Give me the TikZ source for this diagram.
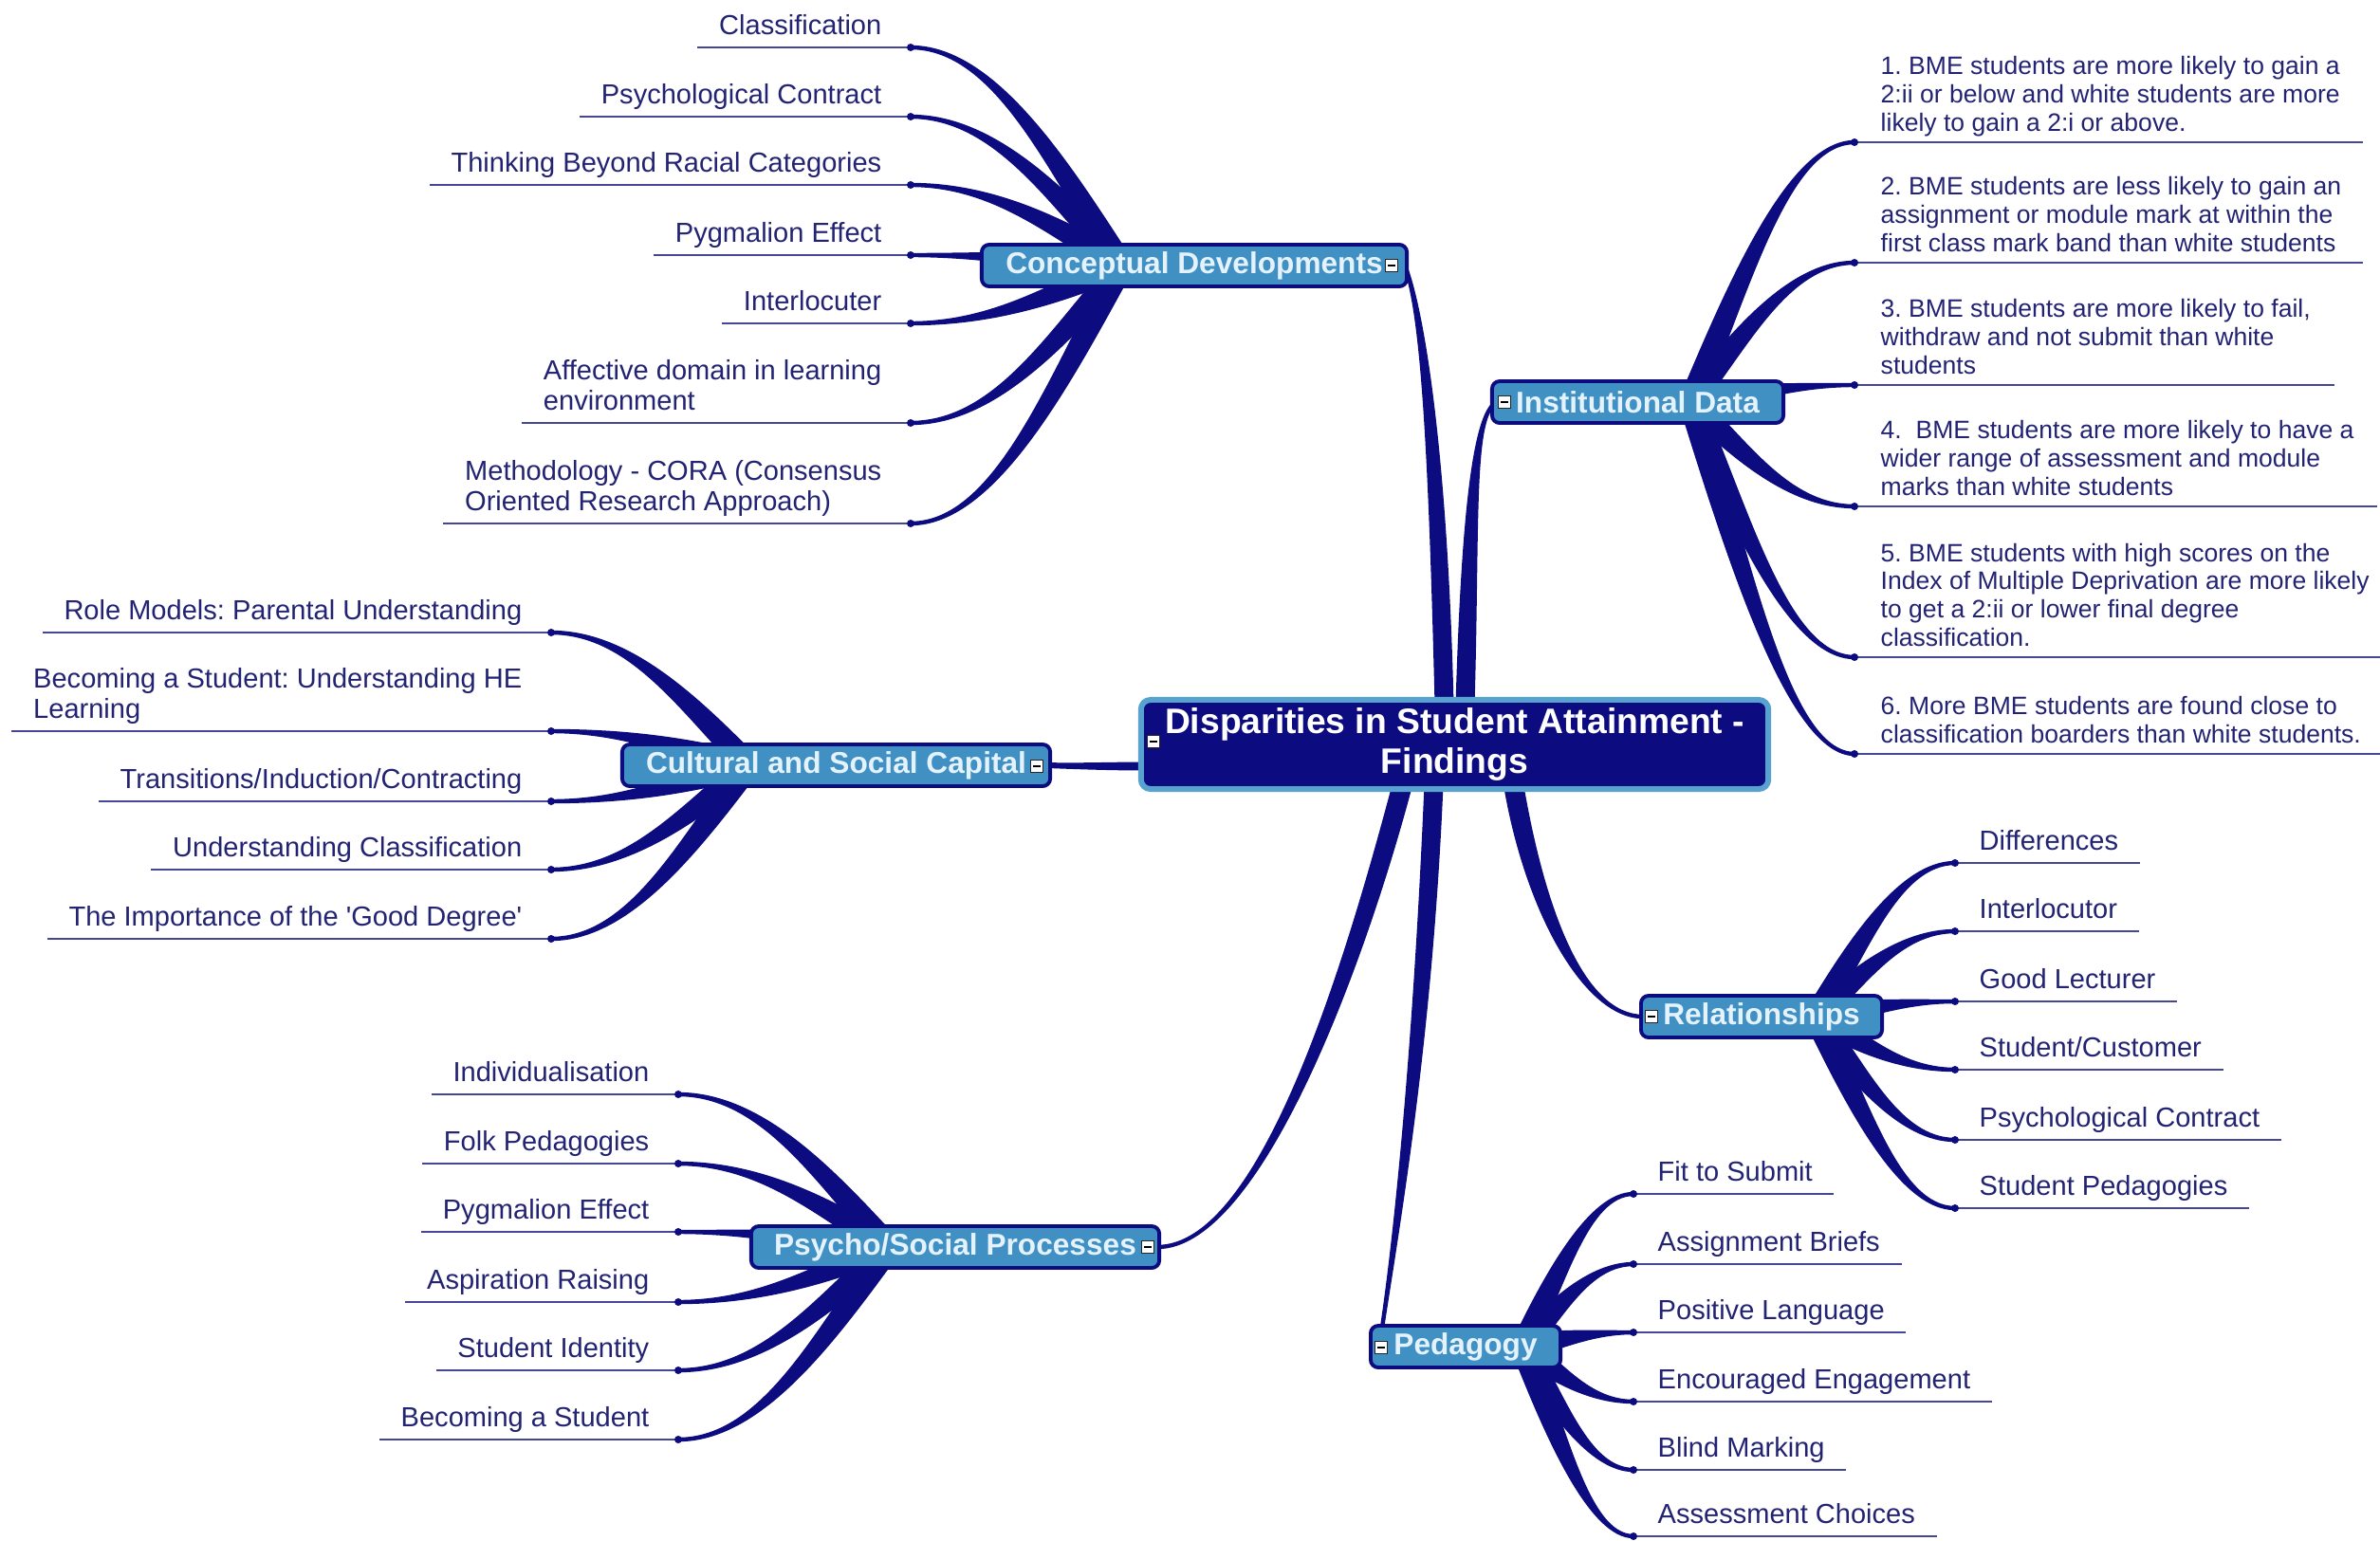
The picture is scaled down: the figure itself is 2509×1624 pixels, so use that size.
\documentclass[tikz,border=0pt]{standalone}
\usepackage{fontspec}
\setmainfont{Liberation Sans}
\usetikzlibrary{calc}
\pgfdeclarelayer{bg}
\pgfsetlayers{bg,main}
\frenchspacing
\definecolor{navy}{RGB}{12,12,128}
\definecolor{leafc}{RGB}{35,35,115}
\definecolor{ulinec}{RGB}{70,70,150}
\definecolor{hubfill}{RGB}{64,144,196}
\definecolor{hubtext}{RGB}{228,242,252}
\definecolor{cenborder}{RGB}{88,162,208}
\tikzset{
 leaftext/.style={inner sep=0pt, text depth=0pt, align=left, text=leafc, font=\fontsize{8.26}{9.1}\selectfont},
 idtext/.style={inner sep=0pt, text depth=0pt, align=left, text=leafc, font=\fontsize{7.55}{8.45}\selectfont},
 uline/.style={draw=ulinec, line width=0.8pt},
 ldot/.style={circle, fill=navy, inner sep=0pt, minimum size=0.08cm},
 hub/.style={rectangle, rounded corners=0.08cm, draw=navy, line width=1.1pt, fill=hubfill, text=hubtext, font=\bfseries\fontsize{9}{10}\selectfont, minimum height=0.44cm, inner sep=0pt},
 cenbox/.style={rectangle, rounded corners=0.1cm, draw=cenborder, line width=1.7pt, fill=navy, text=white, font=\bfseries\fontsize{10.6}{11.8}\selectfont, align=center, minimum width=6.61cm, minimum height=0.94cm, inner sep=0pt},
 minusicon/.style={rectangle, draw=black!85, fill=white, line width=0.35pt, minimum size=0.13cm, inner sep=0pt, path picture={\draw[black, line width=0.7pt] ($(path picture bounding box.west)+(0.025cm,0)$) -- ($(path picture bounding box.east)+(-0.025cm,0)$);}},
 conn/.style={fill=navy},
}
% tapered filled bezier: start, control1, control2, end, half-width start, half-width end
\newcommand\mmtaper[6]{%
 \coordinate (tA) at (#1);
 \coordinate (tB) at (#2);
 \coordinate (tC) at (#3);
 \coordinate (tD) at (#4);
 \coordinate (tAl) at ($(tA)!#5!90:(tB)$);
 \coordinate (tAr) at ($(tA)!#5!-90:(tB)$);
 \coordinate (tDl) at ($(tD)!#6!-90:(tC)$);
 \coordinate (tDr) at ($(tD)!#6!90:(tC)$);
 \fill[conn] (tAl) .. controls ($(tB)+(tAl)-(tA)$) and ($(tC)+(tDl)-(tD)$) .. (tDl)
   -- (tDr) .. controls ($(tC)+(tDr)-(tD)$) and ($(tB)+(tAr)-(tA)$) .. (tAr) -- cycle;}
\newcommand\mmleafconn[2]{%
 \path let \p1=(#1), \p2=(#2.center) in
   ({\x1+0.3*(\x2-\x1)},{\y1+0.45*(\y2-\y1)}) coordinate (tBx)
   ({\x1+0.6*(\x2-\x1)},{\y2}) coordinate (tCx);
 \mmtaper{#1}{tBx}{tCx}{#2.center}{0.125cm}{0.022cm}}
% left leaf: name, dot x, line y, text, hub origin
\newcommand\mmleafL[5]{%
 \coordinate (#1d) at (#2,#3);
 \node[leaftext, anchor=south east] (#1) at ($(#1d)+(-30,-13)$) {#4};
 \draw[uline] (#1d.center) -- ($(#1.south west |- #1d.center)+(-22,0)$);
 \node[ldot] (#1p) at (#1d) {};
 \begin{pgfonlayer}{bg}\mmleafconn{#5}{#1d}\end{pgfonlayer}}
% right leaf
\newcommand\mmleafR[5]{%
 \coordinate (#1d) at (#2,#3);
 \node[leaftext, anchor=south west] (#1) at ($(#1d)+(25,-13)$) {#4};
 \draw[uline] (#1d.center) -- ($(#1.south east |- #1d.center)+(22,0)$);
 \node[ldot] (#1p) at (#1d) {};
 \begin{pgfonlayer}{bg}\mmleafconn{#5}{#1d}\end{pgfonlayer}}
% institutional data leaf: name, line y, line end x, text
\newcommand\mmleafI[4]{%
 \coordinate (#1d) at (1955,#2);
 \coordinate (#1e) at (#3,#2);
 \node[idtext, anchor=south west] (#1) at ($(#1d)+(27,-11)$) {#4};
 \draw[uline] (#1d.center) -- (#1e);
 \node[ldot] (#1p) at (#1d) {};
 \begin{pgfonlayer}{bg}\mmleafconn{idO}{#1d}\end{pgfonlayer}}

\begin{document}
\begin{tikzpicture}[x=0.01cm,y=-0.01cm]
\useasboundingbox (0,0) rectangle (2509,1624);
\begin{pgfonlayer}{bg}
\fill[white] (0,0) rectangle (2509,1624);
\end{pgfonlayer}

% central and hubs
\node[cenbox] (cen) at (1533.5,785) {Disparities in Student Attainment -\\Findings};
\node[minusicon] (cenm) at (1216,782) {};

\node[hub, minimum width=4.48cm] (cd) at (1259,280) {Conceptual Developments};
\node[minusicon] (cdm) at (1467,280) {};
\node[hub, minimum width=3.07cm] (id) at (1726.5,424) {Institutional Data};
\node[minusicon] (idm) at (1586,424) {};
\node[hub, minimum width=4.51cm] (csc) at (881.5,807) {Cultural and Social Capital};
\node[minusicon] (cscm) at (1093,808) {};
\node[hub, minimum width=2.54cm] (rel) at (1857,1072) {Relationships};
\node[minusicon] (relm) at (1741,1072) {};
\node[hub, minimum width=4.30cm] (psp) at (1007,1315) {Psycho/Social Processes};
\node[minusicon] (pspm) at (1210,1315) {};
\node[hub, minimum width=2.00cm] (ped) at (1545,1420) {Pedagogy};
\node[minusicon] (pedm) at (1456,1421) {};

\coordinate (cdO) at ($(cd.west)+(150,0)$);
\coordinate (cscO) at ($(csc.west)+(136,0)$);
\coordinate (pspO) at ($(psp.west)+(148,0)$);
\coordinate (idO) at ($(id.east)+(-100,0)$);
\coordinate (relO) at ($(rel.east)+(-72,0)$);
\coordinate (pedO) at ($(ped.east)+(-42,0)$);

% main connectors
\begin{pgfonlayer}{bg}
\mmtaper{$(cen.north)+(-11,8)$}{1516,480}{1500,330}{$(cd.east)+(-4,0)$}{0.1cm}{0.022cm}
\mmtaper{$(cen.north)+(11,8)$}{1550,560}{1552,445}{$(id.west)+(4,2)$}{0.1cm}{0.022cm}
\mmtaper{$(cen.west |- csc.east)+(8,1)$}{1170,808}{1130,808}{$(csc.east)+(-4,0)$}{0.045cm}{0.03cm}
\mmtaper{$(cen.south)+(62,-8)$}{1618,960}{1670,1072}{$(rel.west)+(4,0)$}{0.105cm}{0.022cm}
\mmtaper{$(cen.south)+(-55,-8)$}{1430,1010}{1330,1315}{$(psp.east)+(-4,0)$}{0.105cm}{0.022cm}
\mmtaper{$(cen.south)+(-22,-8)$}{1500,1100}{1472,1300}{$(ped.north west)+(14,4)$}{0.1cm}{0.022cm}
\end{pgfonlayer}

% Conceptual Developments leaves
\mmleafL{cd1}{960}{50}{Classification}{cdO}
\mmleafL{cd2}{960}{123}{Psychological Contract}{cdO}
\mmleafL{cd3}{960}{195}{Thinking Beyond Racial Categories}{cdO}
\mmleafL{cd4}{960}{269}{Pygmalion Effect}{cdO}
\mmleafL{cd5}{960}{341}{Interlocuter}{cdO}
\mmleafL{cd6}{960}{446}{Affective domain in learning\\environment}{cdO}
\mmleafL{cd7}{960}{552}{Methodology - CORA (Consensus\\Oriented Research Approach)}{cdO}

% Cultural and Social Capital leaves
\mmleafL{cs1}{581}{667}{Role Models: Parental Understanding}{cscO}
\mmleafL{cs2}{581}{771}{Becoming a Student: Understanding HE\\Learning}{cscO}
\mmleafL{cs3}{581}{845}{Transitions/Induction/Contracting}{cscO}
\mmleafL{cs4}{581}{917}{Understanding Classification}{cscO}
\mmleafL{cs5}{581}{990}{The Importance of the \textquotesingle Good Degree\textquotesingle}{cscO}

% Psycho/Social Processes leaves
\mmleafL{ps1}{715}{1154}{Individualisation}{pspO}
\mmleafL{ps2}{715}{1227}{Folk Pedagogies}{pspO}
\mmleafL{ps3}{715}{1299}{Pygmalion Effect}{pspO}
\mmleafL{ps4}{715}{1373}{Aspiration Raising}{pspO}
\mmleafL{ps5}{715}{1445}{Student Identity}{pspO}
\mmleafL{ps6}{715}{1518}{Becoming a Student}{pspO}

% Institutional Data leaves
\mmleafI{id1}{150}{2491}{1. BME students are more likely to gain a\\2:ii or below and white students are more\\likely to gain a 2:i or above.}
\mmleafI{id2}{277}{2491}{2. BME students are less likely to gain an\\assignment or module mark at within the\\first class mark band than white students}
\mmleafI{id3}{406}{2461}{3. BME students are more likely to fail,\\withdraw and not submit than white\\students}
\mmleafI{id4}{534}{2506}{4.\ \ BME students are more likely to have a\\wider range of assessment and module\\marks than white students}
\mmleafI{id5}{693}{2509}{5. BME students with high scores on the\\Index of Multiple Deprivation are more likely\\to get a 2:ii or lower final degree\\classification.}
\mmleafI{id6}{795}{2509}{6. More BME students are found close to\\classification boarders than white students.}

% Relationships leaves
\mmleafR{rl1}{2061}{910}{Differences}{relO}
\mmleafR{rl2}{2061}{982}{Interlocutor}{relO}
\mmleafR{rl3}{2061}{1056}{Good Lecturer}{relO}
\mmleafR{rl4}{2061}{1128}{Student/Customer}{relO}
\mmleafR{rl5}{2061}{1202}{Psychological Contract}{relO}
\mmleafR{rl6}{2061}{1274}{Student Pedagogies}{relO}

% Pedagogy leaves
\mmleafR{pd1}{1722}{1259}{Fit to Submit}{pedO}
\mmleafR{pd2}{1722}{1333}{Assignment Briefs}{pedO}
\mmleafR{pd3}{1722}{1405}{Positive Language}{pedO}
\mmleafR{pd4}{1722}{1478}{Encouraged Engagement}{pedO}
\mmleafR{pd5}{1722}{1550}{Blind Marking}{pedO}
\mmleafR{pd6}{1722}{1620}{Assessment Choices}{pedO}
\end{tikzpicture}
\end{document}
